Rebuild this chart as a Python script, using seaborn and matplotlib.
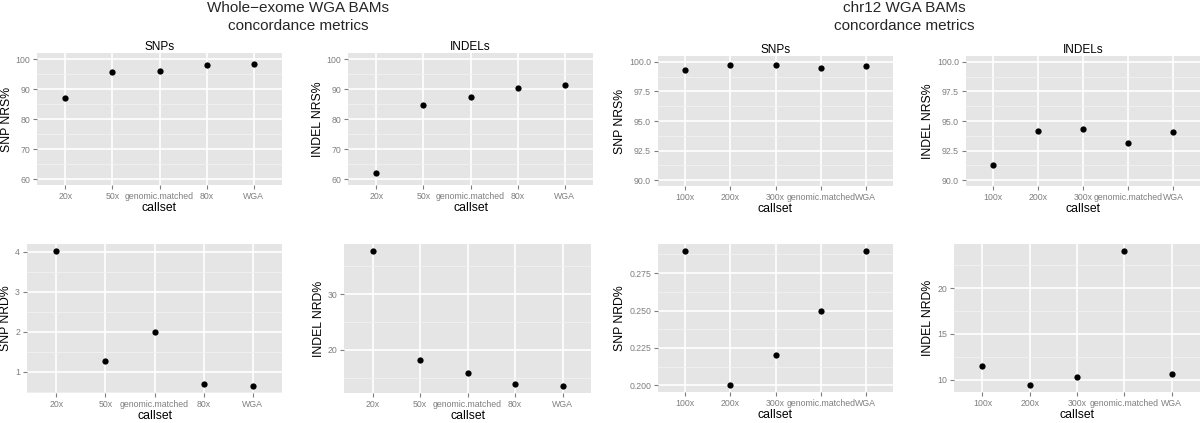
import numpy as np
import pandas as pd
import matplotlib
matplotlib.use("Agg")
import matplotlib.pyplot as plt
import seaborn as sns
from matplotlib.ticker import MultipleLocator, FormatStrFormatter

# ── data ─────────────────────────────────────────────────────────
wes_callsets = ["20x", "50x", "genomic.matched", "80x", "WGA"]
wes_snp_nrs = [86.9, 95.8, 95.9, 97.9, 98.2]
wes_indel_nrs = [61.9, 84.8, 87.3, 90.5, 91.2]
wes_snp_nrd = [4.03, 1.26, 2.0, 0.70, 0.64]
wes_indel_nrd = [37.8, 18.2, 15.9, 13.9, 13.5]

chr12_callsets = ["100x", "200x", "300x", "genomic.matched", "WGA"]
chr12_snp_nrs = [99.35, 99.74, 99.74, 99.52, 99.66]
chr12_indel_nrs = [91.31, 94.18, 94.29, 93.18, 94.09]
chr12_snp_nrd = [0.29, 0.20, 0.22, 0.25, 0.29]
chr12_indel_nrd = [11.47, 9.38, 10.26, 24.1, 10.66]

group_titles = ["Whole\u2212exome WGA BAMs\nconcordance metrics",
                "chr12 WGA BAMs\nconcordance metrics"]

# ── style (old ggplot2 grey theme) ───────────────────────────────
sns.set_theme(style="darkgrid", rc={
    "axes.facecolor": "#E5E5E5",
    "grid.color": "white",
    "axes.edgecolor": "none",
})
plt.rcParams["font.family"] = ["Liberation Sans", "DejaVu Sans"]

W, H = 1200, 423
fig = plt.figure(figsize=(W / 100, H / 100), dpi=100)


def px_axes(l, t, r, b):
    return fig.add_axes([l / W, 1 - b / H, (r - l) / W, (b - t) / H])


# (left, top, right, bottom) in pixels, values, callsets, ylabel, title,
# fixed limits (None -> data range), tick step, tick format
panels = [
    ((37, 53, 282, 185), wes_snp_nrs, wes_callsets, "SNP NRS%", "SNPs", (60, 100), 10, "%d"),
    ((348, 53, 593, 185), wes_indel_nrs, wes_callsets, "INDEL NRS%", "INDELs", (60, 100), 10, "%d"),
    ((27, 244, 282, 393), wes_snp_nrd, wes_callsets, "SNP NRD%", None, None, 1, "%d"),
    ((344, 244, 591, 393), wes_indel_nrd, wes_callsets, "INDEL NRD%", None, None, 10, "%d"),
    ((658, 56, 893, 186), chr12_snp_nrs, chr12_callsets, "SNP NRS%", "SNPs", (90, 100), 2.5, "%.1f"),
    ((966, 56, 1200, 186), chr12_indel_nrs, chr12_callsets, "INDEL NRS%", "INDELs", (90, 100), 2.5, "%.1f"),
    ((658, 244, 893, 392), chr12_snp_nrd, chr12_callsets, "SNP NRD%", None, None, 0.025, "%.3f"),
    ((954, 244, 1200, 392), chr12_indel_nrd, chr12_callsets, "INDEL NRD%", None, None, 5, "%d"),
]

for box, vals, cats, ylab, title, lims, step, fmt in panels:
    ax = px_axes(*box)
    df = pd.DataFrame({"callset": pd.Categorical(cats, categories=cats), "value": vals})
    sns.stripplot(data=df, x="callset", y="value", order=cats, jitter=False,
                  color="black", size=4.5, ax=ax, zorder=3)

    lo, hi = lims if lims is not None else (min(vals), max(vals))
    pad = (hi - lo) * 0.05
    ax.set_ylim(lo - pad, hi + pad)
    ax.set_xlim(-0.6, len(cats) - 0.4)

    ax.yaxis.set_major_locator(MultipleLocator(step))
    ax.yaxis.set_minor_locator(MultipleLocator(step / 2))
    ax.yaxis.set_major_formatter(FormatStrFormatter(fmt))
    ax.grid(True, which="major", color="white", linewidth=1.2)
    ax.grid(True, which="minor", axis="y", color="#F2F2F2", linewidth=0.6)
    ax.set_axisbelow(True)

    ax.tick_params(axis="both", which="major", direction="out", length=3, width=0.8,
                   color="#7F7F7F", labelcolor="#7F7F7F", labelsize=6.3, pad=2,
                   bottom=True, left=True)
    ax.tick_params(axis="both", which="minor", length=0)
    for s in ax.spines.values():
        s.set_visible(False)

    ax.set_xlabel("callset", fontsize=8.8, color="black", labelpad=1)
    ax.set_ylabel(ylab, fontsize=8.8, color="black", labelpad=2)
    if title:
        ax.set_title(title, fontsize=8.5, color="black", pad=2)

# group titles
fig.text(298 / W, 1 - 1 / H, group_titles[0], ha="center", va="top",
         fontsize=11, linespacing=1.4)
fig.text(904 / W, 1 - 1 / H, group_titles[1], ha="center", va="top",
         fontsize=11, linespacing=1.4)

fig.savefig("out.png", dpi=100)
